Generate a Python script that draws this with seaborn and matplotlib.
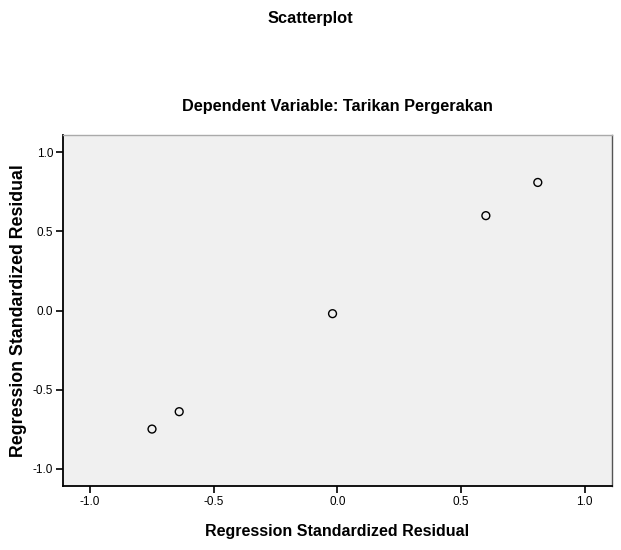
import matplotlib
matplotlib.use('Agg')
import matplotlib.pyplot as plt
import seaborn as sns
import pandas as pd

# values
x_resid = [-0.75, -0.64, -0.02, 0.60, 0.81]
y_resid = [-0.75, -0.64, -0.02, 0.60, 0.81]
ticks = [-1.0, -0.5, 0.0, 0.5, 1.0]
tick_labels = ['-1.0', '-0.5', '0.0', '0.5', '1.0']

sns.set_style('white')
plt.rcParams['font.family'] = ['Liberation Sans', 'DejaVu Sans']
plt.rcParams['text.color'] = 'black'
plt.rcParams['axes.labelcolor'] = 'black'

d = pd.DataFrame({'x': x_resid, 'y': y_resid})

fig = plt.figure(figsize=(6.21, 5.5), dpi=100)
ax = fig.add_axes([0.1014, 0.1164, 0.8841, 0.6381])
ax.set_facecolor('#f0f0f0')

sns.scatterplot(data=d, x='x', y='y', ax=ax, s=32, marker='o',
                facecolor='none', edgecolor='black', linewidth=1.0)

ax.set_xlim(-1.11, 1.11)
ax.set_ylim(-1.11, 1.11)
ax.set_xticks(ticks)
ax.set_xticklabels(tick_labels)
ax.set_yticks(ticks)
ax.set_yticklabels(tick_labels)
ax.tick_params(axis='both', direction='out', length=5, width=1.2,
               labelsize=8.5, colors='black', pad=2, bottom=True, left=True)

for side in ['left', 'bottom']:
    ax.spines[side].set_color('black')
    ax.spines[side].set_linewidth(1.3)
for side in ['top', 'right']:
    ax.spines[side].set_color('#555555')
    ax.spines[side].set_linewidth(1.0)
ax.spines['top'].set_color('#aaaaaa')

ax.set_xlabel('Regression Standardized Residual', fontsize=11.5, fontweight='bold',
              labelpad=12, color='black')
ax.set_ylabel('Regression Standardized Residual', fontsize=12.8, fontweight='bold',
              labelpad=4, color='black')
ax.set_title('Dependent Variable: Tarikan Pergerakan', fontsize=11.7, fontweight='bold',
             pad=17, color='black')
fig.text(0.5, 0.967, 'Scatterplot', ha='center', va='center', fontsize=11.8,
         fontweight='bold', color='black')

plt.savefig('out.png', dpi=100)
